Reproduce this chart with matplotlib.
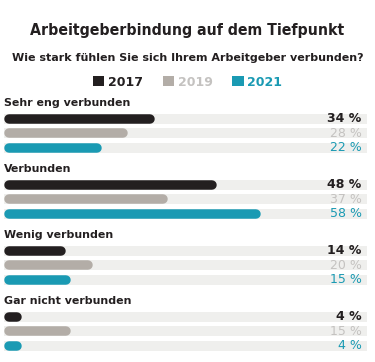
import matplotlib
matplotlib.use("Agg")
import matplotlib.pyplot as plt
from matplotlib import font_manager
from matplotlib.patches import Patch

categories = ["Sehr eng verbunden", "Verbunden", "Wenig verbunden", "Gar nicht verbunden"]
years = ["2017", "2019", "2021"]
values_2017 = [34, 48, 14, 4]
values_2019 = [28, 37, 20, 15]
values_2021 = [22, 58, 15, 4]
series = [values_2017, values_2019, values_2021]

bar_colors = ["#231f20", "#b3ada7", "#1a9ab3"]
text_colors = ["#231f20", "#c4c2c0", "#1a9ab3"]
track_color = "#efefed"

W, H = 375, 362
DPI = 100
fig = plt.figure(figsize=(W / DPI, H / DPI), dpi=DPI)
fig.patch.set_facecolor("white")

fl = font_manager.fontManager.ttflist
names = {f.name for f in fl}
title_kw = dict(family="DejaVu Sans", fontweight="bold")
if "Liberation Sans Narrow" in names:
    title_kw = dict(family="Liberation Sans Narrow", fontweight="bold")
elif any(f.name == "DejaVu Sans" and f.stretch == "condensed" for f in fl):
    title_kw = dict(family="DejaVu Sans", fontweight="bold", fontstretch="condensed")
elif "Roboto" in names:
    title_kw = dict(family="Roboto", fontweight="bold")

body_font = "DejaVu Sans"

def fy(px):
    return 1 - px / H

def fx(px):
    return px / W

renderer = fig.canvas.get_renderer()

def fit_text(x, y, s, target_w, size, **kw):
    t = fig.text(x, y, s, fontsize=size, **kw)
    w = t.get_window_extent(renderer).width
    t.set_fontsize(size * target_w / w)
    return t

fit_text(0.5, fy(30), "Arbeitgeberbindung auf dem Tiefpunkt", 315, 15, ha="center",
         va="center", color="#231f20", **title_kw)
fit_text(0.5, fy(58), "Wie stark fühlen Sie sich Ihrem Arbeitgeber verbunden?", 354, 8.5,
         ha="center", va="center", fontweight="bold", family=body_font, color="#231f20")

handles = [Patch(facecolor=c, edgecolor="none") for c in bar_colors]
leg = fig.legend(handles, years, loc="center", bbox_to_anchor=(0.5, fy(82)), ncol=3,
                 frameon=False, handlelength=0.9, handleheight=0.9, handletextpad=0.3,
                 columnspacing=1.6, prop={"family": body_font, "weight": "bold", "size": 9})
for t, c in zip(leg.get_texts(), text_colors):
    t.set_color(c)

top_px, bot_px = 92, 358
left_px, right_px = 4, 367
ax = fig.add_axes([fx(left_px), fy(bot_px), fx(right_px - left_px), (bot_px - top_px) / H])
xmax = 82
ax.set_xlim(0, xmax)
ax.set_ylim(bot_px, top_px)
ax.axis("off")

px_per_unit = (right_px - left_px) / xmax
bar_px = 9.5
lw = bar_px * 72 / DPI
cap = (bar_px / 2) / px_per_unit

group_start = 103
group_step = 66
offsets = [15.5, 30, 44.5]

for gi, cat in enumerate(categories):
    gy = group_start + gi * group_step
    ax.text(0, gy, cat, ha="left", va="center", fontsize=7.9, fontweight="bold",
            family=body_font, color="#231f20")
    for si in range(3):
        y = gy + offsets[si]
        v = series[si][gi]
        ax.plot([0, xmax], [y, y], color=track_color, lw=lw * 1.05, solid_capstyle="butt", zorder=1)
        ax.plot([cap, max(v - cap, cap)], [y, y], color=bar_colors[si], lw=lw,
                solid_capstyle="round", zorder=2)
        ax.text(xmax - 1.2, y, f"{v} %", ha="right", va="center", fontsize=9,
                fontweight="bold" if si == 0 else "normal", family=body_font,
                color=text_colors[si], zorder=3)

fig.savefig("out.png", dpi=DPI, facecolor="white")
